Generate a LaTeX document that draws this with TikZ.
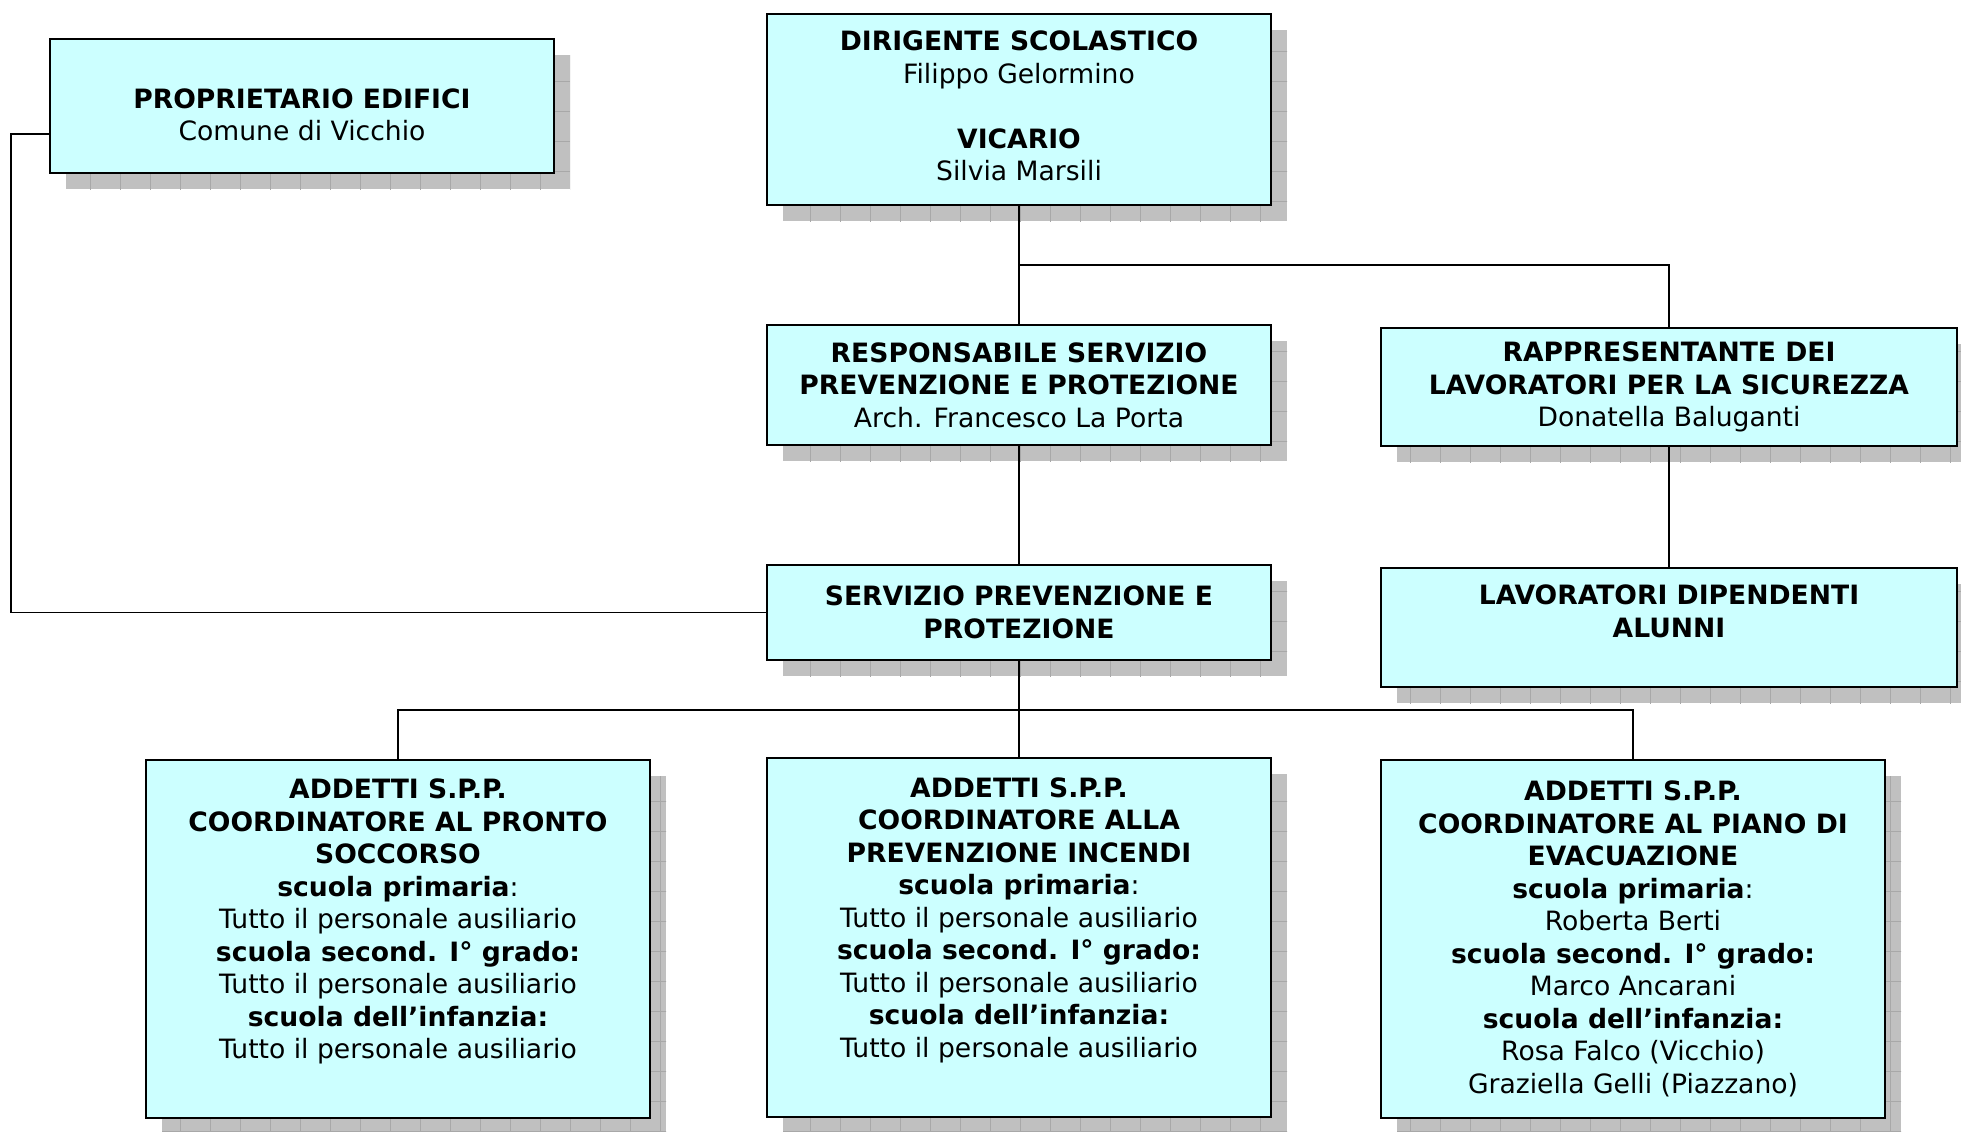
\documentclass[tikz,border=0pt]{standalone}
\usepackage{fontspec}
\setmainfont{DejaVu Sans}
\usetikzlibrary{shadows,patterns.meta}

\definecolor{azzurro}{RGB}{204,255,255}
\definecolor{ombra}{RGB}{192,192,192}
\definecolor{griglia}{RGB}{168,168,168}

\tikzset{
	ufficio/.style={draw=black, line width=1pt, fill=azzurro, align=center,
		inner sep=0pt, font=\fontsize{13.3}{16.25}\selectfont,
		general shadow={fill=ombra, shadow xshift=8pt, shadow yshift=-8pt},
		general shadow={pattern={Hatch[angle=0,distance=15pt,line width=0.4pt]},
			pattern color=griglia, shadow xshift=8pt, shadow yshift=-8pt}},
	stretto/.style={ufficio, minimum width=252pt},
	largo/.style={ufficio, minimum width=288pt},
	linea/.style={draw=black, line width=0.9pt}
}
% spessori per spostare il testo
\newcommand{\giu}{\rule{0pt}{18.5pt}}
\newcommand{\su}{\rule[-3.8pt]{0pt}{0pt}}

\begin{document}
\begin{tikzpicture}[x=0.5pt, y=-0.5pt]
	\useasboundingbox (0,0) rectangle (1961,1131);

	% riquadri in alto
	\node[stretto, minimum height=67pt] (prop) at (302,106)
		{\giu\textbf{PROPRIETARIO EDIFICI}\\ Comune di Vicchio};
	\node[stretto, minimum height=95.5pt] (dir) at (1019,109.5)
		{\textbf{DIRIGENTE SCOLASTICO}\\ Filippo Gelormino\\ ~\\
		\textbf{VICARIO}\\ Silvia Marsili\su};

	% secondo livello
	\node[stretto, minimum height=60pt] (rspp) at (1019,385)
		{\textbf{RESPONSABILE SERVIZIO}\\ \textbf{PREVENZIONE E PROTEZIONE}\\
		Arch. Francesco La Porta};
	\node[largo, minimum height=59pt] (rls) at (1669,387)
		{\textbf{RAPPRESENTANTE DEI}\\ \textbf{LAVORATORI PER LA SICUREZZA}\\
		Donatella Baluganti};

	% terzo livello
	\node[stretto, minimum height=47.5pt] (spp) at (1019,612.5)
		{\textbf{SERVIZIO PREVENZIONE E}\\ \textbf{PROTEZIONE}};
	\node[largo, minimum height=59.5pt] (lav) at (1669,627.5)
		{\textbf{LAVORATORI DIPENDENTI}\\ \textbf{ALUNNI}\\ ~};

	% addetti
	\node[stretto, minimum height=179pt] (soccorso) at (398,939)
		{\textbf{ADDETTI S.P.P.}\\ \textbf{COORDINATORE AL PRONTO}\\
		\textbf{SOCCORSO}\\ \textbf{scuola primaria}:\\
		Tutto il personale ausiliario\\ \textbf{scuola second. I° grado:}\\
		Tutto il personale ausiliario\\ \textbf{scuola dell’infanzia:}\\
		Tutto il personale ausiliario\\ ~\su};
	\node[stretto, minimum height=179.5pt] (incendi) at (1019,937.5)
		{\textbf{ADDETTI S.P.P.}\\ \textbf{COORDINATORE ALLA}\\
		\textbf{PREVENZIONE INCENDI}\\ \textbf{scuola primaria}:\\
		Tutto il personale ausiliario\\ \textbf{scuola second. I° grado:}\\
		Tutto il personale ausiliario\\ \textbf{scuola dell’infanzia:}\\
		Tutto il personale ausiliario\\ ~\su};
	\node[stretto, minimum height=179pt] (evacuazione) at (1633,939)
		{\textbf{ADDETTI S.P.P.}\\ \textbf{COORDINATORE AL PIANO DI}\\
		\textbf{EVACUAZIONE}\\ \textbf{scuola primaria}:\\
		Roberta Berti\\ \textbf{scuola second. I° grado:}\\
		Marco Ancarani\\ \textbf{scuola dell’infanzia:}\\
		Rosa Falco (Vicchio)\\ Graziella Gelli (Piazzano)};

	% collegamenti
	\coordinate (dirbus) at (1019,265);
	\coordinate (bordo) at (11,134);
	\coordinate (sppbus) at (1019,710);
	\draw[linea] (dir.south) -- (rspp.north);
	\draw[linea] (dirbus) -| (rls.north);
	\draw[linea] (rspp.south) -- (spp.north);
	\draw[linea] (rls.south) -- (lav.north);
	\draw[linea] (prop.west |- bordo) -- (bordo) |- (spp.west);
	\draw[linea] (spp.south) -- (incendi.north);
	\draw[linea] (soccorso.north) |- (sppbus) -| (evacuazione.north);
\end{tikzpicture}
\end{document}
